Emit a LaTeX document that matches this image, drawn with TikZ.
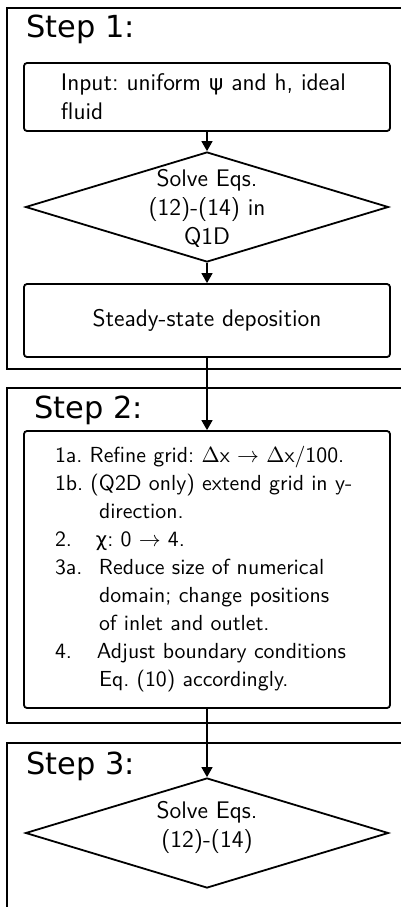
\documentclass[tikz,border=0pt]{standalone}
\usepackage{fontspec}
\usetikzlibrary{shapes.geometric,arrows.meta}
\newfontfamily\titlefont{DejaVu Sans}
\newfontfamily\grkfont[Scale=0.9]{DejaVu Sans}
\newcommand{\gpsi}{{\grkfont ψ}}
\newcommand{\gchi}{{\grkfont χ}}
\newcommand{\lbl}[1]{\makebox[22pt][l]{#1}}
\begin{document}
\frenchspacing
\begin{tikzpicture}[x=0.5pt,y=-0.5pt,
  every node/.style={font=\sffamily\fontsize{12}{14.5}\selectfont},
  frame/.style={draw, line width=1.2pt},
  steptitle/.style={anchor=base west, inner sep=0pt, font=\titlefont\fontsize{15.2}{17}\selectfont},
  process/.style={draw, line width=0.9pt, rounded corners=1.5pt, minimum width=183pt, inner sep=0pt},
  decision/.style={draw, line width=0.9pt, diamond, inner sep=0pt, minimum width=181.5pt, minimum height=55pt},
  flow/.style={line width=0.8pt, -{Triangle[length=5pt,width=5.5pt]}}]
\useasboundingbox (0,0) rectangle (401,907);
\clip (0,0) rectangle (401,907);
% step frames
\draw[frame] (7,8) rectangle (440,369);
\draw[frame] (7,388) rectangle (440,723);
\draw[frame] (7,743) rectangle (440,960);
\node[steptitle] (title1) at (26,37) {Step 1:};
\node[steptitle] (title2) at (34,418) {Step 2:};
\node[steptitle] (title3) at (26,774) {Step 3:};
% step 1
\node[process, minimum height=34pt, text width=146pt, align=left] (input) at (207,97)
  {Input: uniform \gpsi{} and h, ideal\\fluid};
\node[decision] (solve1) at (207,207) {};
\node[align=center, inner sep=0pt] (solve1text) at (207,208) {Solve Eqs.\\(12)-(14) in\\Q1D};
\node[process, minimum height=36.5pt] (steady) at (207,320.5) {Steady-state deposition};
% step 2
\node[process, minimum height=138.5pt, text width=152pt, align=left,
  font=\sffamily\fontsize{10.9}{14}\selectfont] (refine) at (207,569.5)
  {1a. Refine grid: $\Delta$x $\rightarrow$ $\Delta$x/100.\\
   1b. (Q2D only) extend grid in y-\\
   \lbl{}direction.\\
   \makebox[20.5pt][l]{2.}\gchi: 0 $\rightarrow$ 4.\\
   \lbl{3a.}Reduce size of numerical\\
   \lbl{}domain; change positions\\
   \lbl{}of inlet and outlet.\\
   \makebox[21pt][l]{4.}Adjust boundary conditions\\
   \lbl{}Eq. (10) accordingly.};
% step 3
\node[decision] (solve2) at (207,833) {};
\node[align=center, inner sep=0pt] (solve2text) at (207,827) {Solve Eqs.\\(12)-(14)};
% connectors
\draw[flow] (input.south) -- (solve1.north);
\draw[flow] (solve1.south) -- (steady.north);
\draw[flow] (steady.south) -- (refine.north);
\draw[flow] (refine.south) -- (solve2.north);
\end{tikzpicture}
\end{document}
